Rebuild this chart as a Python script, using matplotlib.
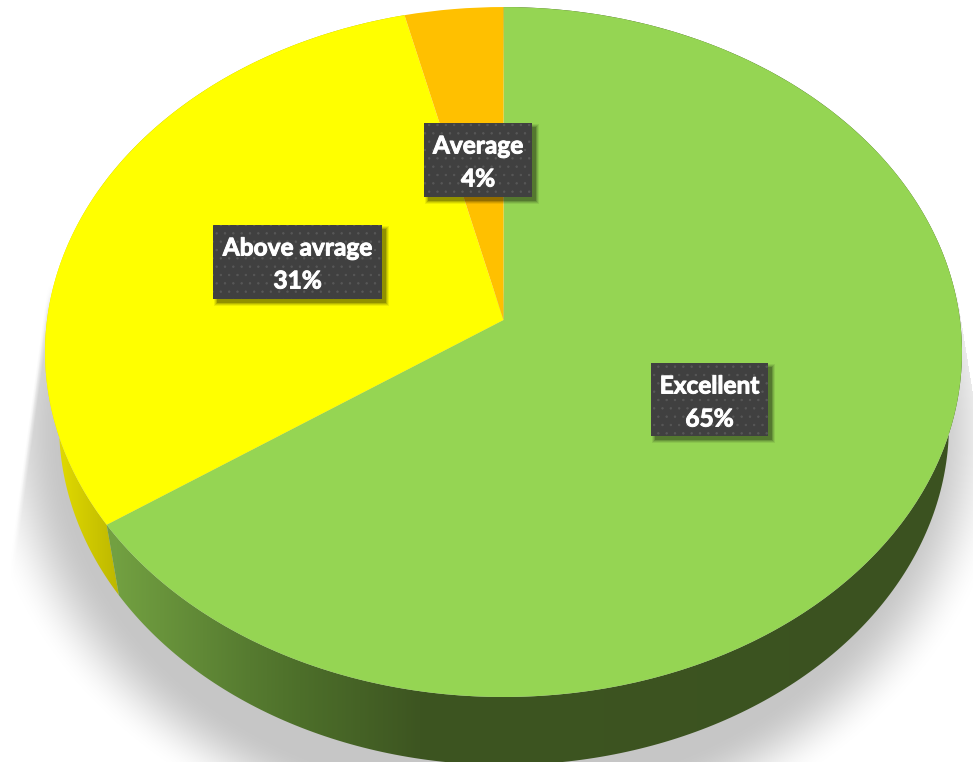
### 3D looking pie chart

import numpy as np
import matplotlib
matplotlib.use('Agg')
import matplotlib.pyplot as plt
import matplotlib.colors as mcolors
import matplotlib.patheffects as pe
from matplotlib.patches import Rectangle, Polygon
from matplotlib.transforms import Transform

categories = ['Excellent', 'Above avrage', 'Average']
values = [65.4, 30.8, 3.8]
percent_labels = ['65%', '31%', '4%']
slice_colors = ['#95d553', '#ffff00', '#ffc000']

# label box: left, top, right, bottom in pixels
label_boxes = [(651, 363, 768, 436), (213, 225, 382, 299), (424, 123, 532, 197)]

# wall shading, pixel x -> colour
green_wall_x = [117, 250, 300, 420, 973]
green_wall_c = ['#72a041', '#567b30', '#4d6f2a', '#3d5521', '#3b5220']
yellow_wall_x = [50, 100, 118]
yellow_wall_c = ['#e6df00', '#c8c200', '#bdb800']

W, H = 973, 762
PERSP = 0.0928


class DiscProjection(Transform):
    # unit disc -> tilted disc on the page
    input_dims = 2
    output_dims = 2
    is_affine = False

    def __init__(self, cx, apex_y, bx, ay):
        super().__init__()
        self.cx, self.apex_y, self.bx, self.ay = cx, apex_y, bx, ay

    def transform_non_affine(self, values):
        values = np.asarray(values, dtype=float)
        x, y = values[:, 0], values[:, 1]
        w = 1 + PERSP * y
        return np.column_stack([self.cx + self.bx * x / w, self.apex_y - self.ay * y / w])


top_disc = DiscProjection(503.5, 320, 456.5, 342)
low_disc = DiscProjection(504, 393.5, 443, 337)

plt.rcParams['hatch.linewidth'] = 0.5

fig = plt.figure(figsize=(W / 100, H / 100), dpi=100)
ax = fig.add_axes([0, 0, 1, 1])

wedges, _ = ax.pie(values, colors=slice_colors, startangle=90, counterclock=False, radius=1)
for w in wedges:
    w.set_transform(top_disc + ax.transData)
    w.set_clip_on(False)
    w.set_zorder(5)
    w.set_linewidth(0)

# drop shadow under the pie
xx, yy = np.meshgrid(np.arange(W) + 0.5, np.arange(H) + 0.5)
dist = (np.sqrt(((xx - 494) / 474) ** 2 + ((yy - 432) / 395) ** 2) - 1) * 440
alpha = np.clip(0.5 - dist / 80, 0, 1)
alpha = alpha * alpha * (3 - 2 * alpha)
edge = 47 - (yy - 290) * 33 / 240
alpha *= np.clip((xx - edge) / 3, 0, 1) * 0.35 + 0.65 * np.clip((xx - edge - 2) / 4, 0, 1)
alpha[xx > 958 + (yy - 300) * 0.16] = 0
alpha *= np.clip((yy - 285) / 25, 0, 1)
shadow = np.zeros((H, W, 4))
shadow[..., :3] = 0.78
shadow[..., 3] = alpha
ax.imshow(shadow, extent=(0, W, H, 0), aspect='auto', zorder=1)


def draw_wall(wedge, stops_x, stops_c, zorder):
    theta = np.radians(np.linspace(wedge.theta1, wedge.theta2, 300))
    rim = np.column_stack([np.cos(theta), np.sin(theta)])
    poly = np.vstack([top_disc.transform_non_affine(rim),
                      low_disc.transform_non_affine(rim)[::-1]])
    rgb = np.array([mcolors.to_rgb(c) for c in stops_c])
    xs = np.arange(W) + 0.5
    grad = np.column_stack([np.interp(xs, stops_x, rgb[:, i]) for i in range(3)])[None, :, :]
    im = ax.imshow(grad, extent=(0, W, H, 0), aspect='auto', zorder=zorder)
    clip = Polygon(poly, closed=True, transform=ax.transData, fc='none', ec='none')
    ax.add_patch(clip)
    im.set_clip_path(clip)


draw_wall(wedges[0], green_wall_x, green_wall_c, 3)
draw_wall(wedges[1], yellow_wall_x, yellow_wall_c, 2)

# label boxes
bold = [pe.withStroke(linewidth=0.7, foreground='white')]
for name, pct, (x0, y0, x1, y1) in zip(categories, percent_labels, label_boxes):
    for grow, a in [(3, 0.07), (2, 0.10), (1, 0.14), (0, 0.2)]:
        ax.add_patch(Rectangle((x0 + 4 - grow, y0 + 4 - grow), x1 - x0 + 2 * grow, y1 - y0 + 2 * grow,
                               fc='black', ec='none', alpha=a, zorder=6))
    ax.add_patch(Rectangle((x0, y0), x1 - x0, y1 - y0, fc='#404040', ec='#585858', lw=0,
                           hatch='..', zorder=7))
    cx = (x0 + x1) / 2
    ax.text(cx, y0 + 23, name, color='white', fontsize=17.6, fontweight='bold', family='Lato',
            ha='center', va='center', zorder=8, path_effects=bold)
    ax.text(cx, y0 + 56, pct, color='white', fontsize=17.6, fontweight='bold', family='Lato',
            ha='center', va='center', zorder=8, path_effects=bold)

ax.set_aspect('auto')
ax.set_xlim(0, W)
ax.set_ylim(H, 0)
ax.axis('off')

fig.savefig('out.png', dpi=100, facecolor='white')
